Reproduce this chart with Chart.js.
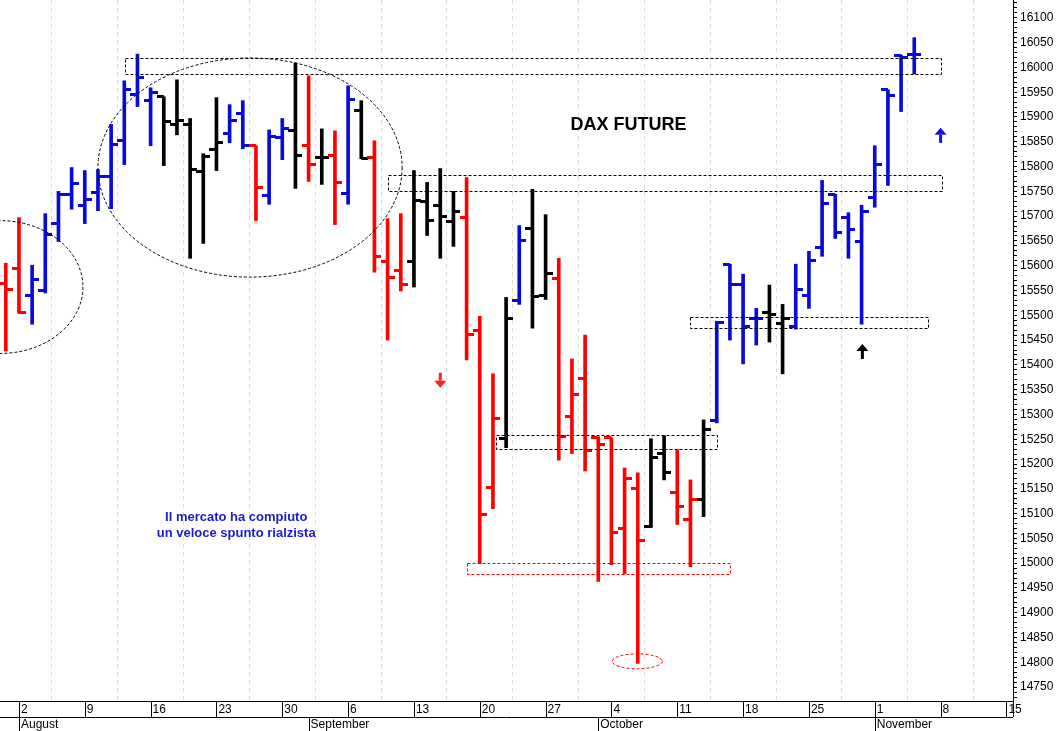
<!DOCTYPE html>
<html>
<head>
<meta charset="utf-8">
<script src="https://cdn.jsdelivr.net/npm/chart.js@4.4.1/dist/chart.umd.min.js"></script>
<style>
  html, body { margin:0; padding:0; background:#fff; }
  #wrap { width:1061px; height:731px; }
</style>
</head>
<body>
<div id="wrap"><canvas id="myChart" width="1061" height="731"></canvas></div>
<script>
// DAX future daily bars, Jul 30 -> Nov 4 (trading days)
var days = ["30/7","2/8","3/8","4/8","5/8","6/8","9/8","10/8","11/8","12/8","13/8","16/8","17/8","18/8","19/8","20/8",
  "23/8","24/8","25/8","26/8","27/8","30/8","31/8","1/9","2/9","3/9","6/9","7/9","8/9","9/9","10/9",
  "13/9","14/9","15/9","16/9","17/9","20/9","21/9","22/9","23/9","24/9","27/9","28/9","29/9","30/9","1/10",
  "4/10","5/10","6/10","7/10","8/10","11/10","12/10","13/10","14/10","15/10","18/10","19/10","20/10","21/10","22/10",
  "25/10","26/10","27/10","28/10","29/10","1/11","2/11","3/11","4/11"];
var opens = [15565,15595,15540,15551,15685,15744,15722,15748,15780,15852,15945,15933,15941,15885,15885,15790,
  15834,15866,15907,15842,15742,15858,15872,15842,15818,15822,15746,15913,15818,15609,15591,
  15609,15730,15722,15689,15697,15470,15152,15251,15530,15675,15540,15575,15295,15373,15253,
  15253,15070,15150,15074,15221,15142,15088,15128,15287,15603,15563,15494,15506,15484,15478,
  15540,15637,15744,15697,15649,15738,15955,16025,16027];
var highs = [15605,15697,15601,15705,15750,15798,15792,15794,15885,15973,16027,15959,15941,15975,15897,15826,
  15939,15925,15933,15842,15874,15897,16009,15983,15876,15872,15963,15933,15852,15695,15705,
  15792,15768,15796,15750,15778,15498,15382,15536,15681,15754,15703,15615,15412,15460,15255,
  15253,15192,15182,15251,15257,15229,15168,15289,15488,15603,15583,15514,15561,15522,15603,
  15629,15772,15744,15707,15722,15842,15955,16025,16060];
var lows = [15428,15504,15482,15545,15649,15714,15685,15711,15715,15804,15921,15842,15802,15864,15615,15645,
  15792,15848,15836,15691,15724,15814,15756,15770,15764,15683,15724,15816,15587,15450,15549,
  15557,15661,15615,15639,15410,14999,15110,15233,15522,15474,15532,15208,15221,15186,14963,
  14997,14979,14798,15072,15168,15078,14993,15094,15283,15450,15402,15440,15446,15382,15472,
  15514,15619,15655,15615,15482,15718,15762,15911,15987];
var closes = [15553,15506,15573,15663,15744,15766,15734,15780,15844,15955,15979,15949,15891,15893,15794,15820,
  15848,15893,15842,15758,15860,15876,15822,15804,15818,15768,15935,15816,15619,15577,15563,
  15732,15691,15699,15709,15462,15098,15291,15494,15651,15538,15585,15255,15341,15227,15239,
  15062,15170,15046,15213,15182,15114,15128,15269,15486,15563,15478,15494,15502,15494,15553,
  15611,15726,15667,15673,15709,15804,15943,16021,16027];
// b = blue, r = red, k = black
var barColors = ["r","r","b","b","b","b","b","b","b","b","b","b","k","k","k","k",
  "k","b","b","r","b","b","k","r","k","r","b","k","r","r","r",
  "k","k","k","k","r","r","r","k","b","k","k","r","r","r","r",
  "r","r","r","k","k","r","r","k","b","b","b","b","k","k","b",
  "b","b","b","b","b","b","b","b","b"];
// weekly tick labels (Mondays) and month starts
var mondayIdx = [1,6,11,16,21,26,31,36,41,46,51,56,61,66,71,76];
var mondayLabels = ["2","9","16","23","30","6","13","20","27","4","11","18","25","1","8","15"];
var monthIdx = [1,23,45,66];
var monthLabels = ["August","September","October","November"];

var palette = { b: "#0a0ad8", r: "#ff0000", k: "#000000" };

function tickImg(color, left) {
  var c = document.createElement("canvas");
  c.width = 14; c.height = 3;
  var g = c.getContext("2d");
  g.fillStyle = color;
  if (left) g.fillRect(0, 0, 7, 3); else g.fillRect(7, 0, 7, 3);
  return c;
}
var leftTicks = {}, rightTicks = {};
for (var k in palette) { leftTicks[k] = tickImg(palette[k], true); rightTicks[k] = tickImg(palette[k], false); }

var rangeData = [], openData = [], closeData = [];
for (var i = 0; i < days.length; i++) {
  rangeData.push({ x: i, y: [lows[i], highs[i]] });
  openData.push({ x: i, y: opens[i] });
  closeData.push({ x: i, y: closes[i] });
}

// annotations in data coordinates (day index, price)
var boxes = [
  { x0: 9.05, x1: 71.0, y0: 16020, y1: 15987, color: "#000" },
  { x0: 29.0, x1: 71.1, y0: 15782, y1: 15750, color: "#000" },
  { x0: 52.0, x1: 70.1, y0: 15496, y1: 15474, color: "#000" },
  { x0: 37.2, x1: 54.0, y0: 15259, y1: 15231, color: "#000" },
  { x0: 35.0, x1: 55.0, y0: 15000, y1: 14977, color: "#ff0000" }
];
var ellipses = [
  { x: -0.44, y: 15557, rx: 6.3, ry: 134, color: "#000" },
  { x: 18.55, y: 15798, rx: 11.55, ry: 221, color: "#000" },
  { x: 47.96, y: 14802, rx: 1.9, ry: 15, color: "#ff0000" }
];
var arrows = [
  { x: 33.0, y: 15368, dir: "down", color: "#ff2020" },
  { x: 65.06, y: 15428, dir: "up", color: "#000" },
  { x: 71.0, y: 15864, dir: "up", color: "#1010e0" }
];

var overlay = {
  id: "overlay",
  afterDatasetsDraw: function(chart) {
    var ctx = chart.ctx, xs = chart.scales.x, ys = chart.scales.y, a = chart.chartArea;
    ctx.save();
    ctx.beginPath(); ctx.rect(a.left, a.top, a.right - a.left, a.bottom - a.top); ctx.clip();
    ctx.lineWidth = 1; ctx.setLineDash([3, 2]);
    boxes.forEach(function(b) {
      var x0 = xs.getPixelForValue(b.x0), x1 = xs.getPixelForValue(b.x1);
      var y0 = ys.getPixelForValue(b.y0), y1 = ys.getPixelForValue(b.y1);
      ctx.strokeStyle = b.color;
      ctx.strokeRect(Math.round(x0) + 0.5, Math.round(y0) + 0.5, Math.round(x1 - x0), Math.round(y1 - y0));
    });
    ellipses.forEach(function(e) {
      var cx = xs.getPixelForValue(e.x), cy = ys.getPixelForValue(e.y);
      var rx = xs.getPixelForValue(e.x + e.rx) - cx, ry = cy - ys.getPixelForValue(e.y + e.ry);
      ctx.strokeStyle = e.color;
      ctx.beginPath(); ctx.ellipse(cx, cy, rx, ry, 0, 0, Math.PI * 2); ctx.stroke();
    });
    ctx.setLineDash([]);
    arrows.forEach(function(r) {
      var cx = xs.getPixelForValue(r.x), cy = ys.getPixelForValue(r.y);
      var s = r.dir === "up" ? -1 : 1;
      ctx.fillStyle = r.color;
      ctx.fillRect(cx - 1.5, cy - 8 * s > cy ? cy : cy - 8 * s, 3, 8);
      ctx.beginPath();
      ctx.moveTo(cx - 6, cy); ctx.lineTo(cx + 6, cy); ctx.lineTo(cx, cy + 7 * s); ctx.closePath(); ctx.fill();
    });
    ctx.fillStyle = "#000";
    ctx.font = "bold 18px 'Liberation Sans', Arial, sans-serif";
    ctx.textAlign = "center"; ctx.textBaseline = "middle";
    ctx.fillText("DAX FUTURE", xs.getPixelForValue(47.3), ys.getPixelForValue(15883));
    ctx.fillStyle = "#1a1ad0";
    ctx.font = "bold 13px 'Liberation Sans', Arial, sans-serif";
    ctx.fillText("Il mercato ha compiuto", xs.getPixelForValue(17.5), ys.getPixelForValue(15092));
    ctx.fillText("un veloce spunto rialzista", xs.getPixelForValue(17.5), ys.getPixelForValue(15060));
    ctx.restore();

    // two-row date axis under the plot
    ctx.save();
    var b = a.bottom, h = 16;
    ctx.strokeStyle = "#000"; ctx.lineWidth = 1;
    ctx.beginPath();
    ctx.moveTo(a.left, b + h + 0.5); ctx.lineTo(a.right, b + h + 0.5);
    ctx.moveTo(a.right + 0.5, b); ctx.lineTo(a.right + 0.5, b + h);
    mondayIdx.forEach(function(m) {
      var x = Math.round(xs.getPixelForValue(m)) + 0.5;
      ctx.moveTo(x, b); ctx.lineTo(x, b + h);
    });
    monthIdx.forEach(function(m) {
      var x = Math.round(xs.getPixelForValue(m)) + 0.5;
      ctx.moveTo(x, b + h); ctx.lineTo(x, chart.height);
    });
    ctx.stroke();
    ctx.fillStyle = "#000";
    ctx.font = "12px 'Liberation Sans', Arial, sans-serif";
    ctx.textAlign = "left"; ctx.textBaseline = "middle";
    mondayIdx.forEach(function(m, j) {
      ctx.fillText(mondayLabels[j], xs.getPixelForValue(m) + 2, b + 9);
    });
    monthIdx.forEach(function(m, j) {
      ctx.fillText(monthLabels[j], xs.getPixelForValue(m) + 2, b + h + 8);
    });
    ctx.restore();
  }
};

var ctx = document.getElementById("myChart").getContext("2d");
var chart = new Chart(ctx, {
  type: "bar",
  data: {
    datasets: [{
      label: "range",
      data: rangeData,
      backgroundColor: barColors.map(function(c) { return palette[c]; }),
      borderWidth: 0,
      barThickness: 3,
      grouped: false,
      order: 2
    }, {
      type: "line",
      label: "open",
      data: openData,
      showLine: false,
      pointRadius: 7,
      pointStyle: function(c) { return leftTicks[barColors[c.dataIndex]]; },
      order: 1
    }, {
      type: "line",
      label: "close",
      data: closeData,
      showLine: false,
      pointRadius: 7,
      pointStyle: function(c) { return rightTicks[barColors[c.dataIndex]]; },
      order: 1
    }]
  },
  plugins: [overlay],
  options: {
    responsive: false,
    animation: false,
    layout: { autoPadding: false, padding: { left: 0, top: 0, bottom: 30, right: 0 } },
    plugins: { legend: { display: false }, tooltip: { enabled: false } },
    scales: {
      x: {
        type: "linear",
        min: -0.44, max: 76.5,
        offset: false,
        afterBuildTicks: function(s) {
          s.ticks = mondayIdx.map(function(v) { return { value: v }; });
        },
        afterFit: function(s) { s.height = 0; },
        ticks: { display: false },
        grid: { color: "#dcdcdc", tickLength: 0, drawTicks: false },
        border: { color: "#000", dash: [4, 4], display: true }
      },
      y: {
        position: "right",
        min: 14722, max: 16136,
        afterBuildTicks: function(s) {
          var t = [];
          for (var v = 14730; v <= 16130; v += 10) t.push({ value: v });
          s.ticks = t;
        },
        afterFit: function(s) { s.width = 48; s.paddingTop = 0; s.paddingBottom = 0; },
        ticks: {
          autoSkip: false,
          color: "#000",
          padding: 3,
          font: { family: "'Liberation Sans', Arial, sans-serif", size: 12 },
          callback: function(v) { return v % 50 === 0 ? String(v) : ""; }
        },
        grid: { drawOnChartArea: false, tickLength: 4, color: "#000" },
        border: { color: "#000" }
      }
    }
  }
});
</script>
</body>
</html>
